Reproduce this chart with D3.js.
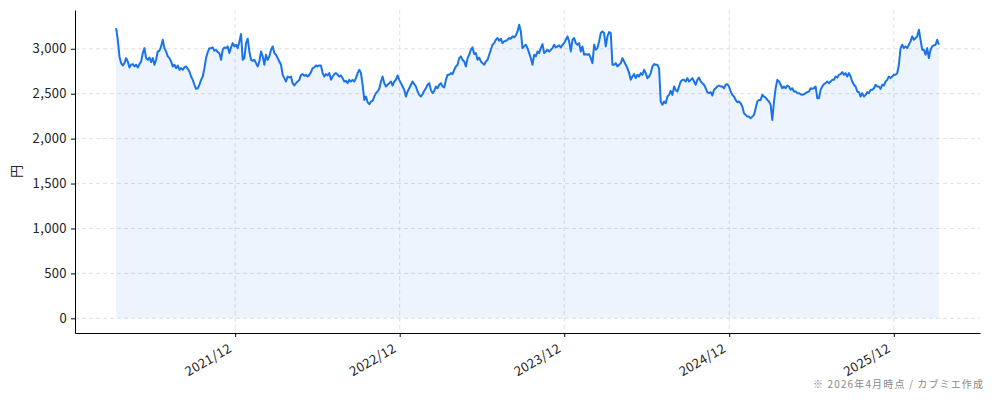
<!DOCTYPE html>
<html>
<head>
<meta charset="utf-8">
<script src="https://cdn.jsdelivr.net/npm/d3@7"></script>
<style>
  html, body { margin: 0; padding: 0; background: #fff; }
  svg { display: block; }
</style>
</head>
<body>
<svg id="chart"></svg>
<script>
// price series: first and last trading dates, closes evenly spread between them
const startDate = "2021-03-12";
const endDate = "2026-03-11";
const closes = [
  3230,3100,2915,2840,2814,2840,2896,2859,2792,2822,2829,2803,2822,2792,2829,2859,
  2952,3007,2896,2877,2903,2851,2896,2822,2877,2970,2978,3026,3100,3007,2970,2915,
  2896,2859,2803,2822,2784,2814,2766,2784,2766,2792,2803,2777,2747,2691,2654,2599,
  2554,2561,2599,2654,2691,2784,2896,2963,3007,3007,3015,2978,2989,2963,2952,2877,
  2989,3015,3007,3026,2952,3015,3063,3026,3045,3007,3082,3164,2877,2896,3063,3112,
  2970,2877,2866,2877,2840,2803,2859,2970,2915,2822,2933,2877,2915,2989,3026,2952,
  2933,2896,2859,2822,2710,2673,2636,2691,2680,2691,2617,2591,2617,2636,2654,2710,
  2718,2699,2710,2691,2710,2740,2784,2792,2814,2803,2814,
  2814,2729,2691,2718,2703,2729,2654,2691,2718,2729,2710,2691,2703,2673,2636,2643,
  2617,2654,2636,2654,2636,2673,2729,2766,2729,2599,2431,2468,2405,2383,2413,2420,
  2468,2506,2524,2554,2636,2691,2617,2580,2599,2617,2636,2591,2636,2654,2703,2654,
  2617,2580,2543,2468,2524,2561,2599,2636,2606,2580,2524,2487,2468,2494,2532,2561,
  2599,2617,2543,2506,2532,2580,2561,2599,2617,2580,2569,2654,2710,2710,2729,2718,
  2766,2803,2822,2896,2915,2877,2859,2803,2896,2933,2989,3015,2941,2952,2877,2903,
  2859,2840,2822,2859,2877,2933,2989,3045,3063,3100,3119,3089,3112,3063,3082,3089,
  3100,3119,3112,3138,3126,3149,3193,3268,3193,3007,3026,3045,3007,
  2952,2896,2822,2933,2915,2970,2952,3007,3052,2952,2970,2989,2970,2989,3007,3045,
  3015,3026,3037,3015,3045,3063,3100,3138,3082,2970,3100,3119,3063,3045,3063,2970,
  3026,2933,2941,2933,2941,2896,2840,3045,2989,3007,3082,3175,3193,3175,3026,3138,
  3186,3175,2822,2822,2840,2803,2822,2840,2896,2859,2822,2784,2729,2654,2691,2718,
  2673,2710,2691,2729,2710,2766,2729,2673,2691,2729,2803,2829,2822,2822,2784,2413,
  2376,2413,2394,2468,2487,2532,2487,2580,2543,2524,2580,2636,2654,2654,2636,2673,
  2636,2654,2673,2636,2599,2654,2680,2636,2617,2599,2561,2517,2506,2517,2480,2543,
  2561,2580,2591,2580,2580,2561,2599,2606,2580,2524,2487,2468,2431,2405,
  2413,2394,2357,2283,2264,2245,2245,2227,2245,2264,2338,2413,2431,2431,2487,2468,
  2457,2431,2413,2376,2208,2413,2561,2654,2636,2599,2561,2580,2561,2591,2580,2543,
  2561,2524,2524,2506,2506,2494,2487,2494,2506,2517,2524,2561,2554,2561,2580,2450,
  2450,2543,2580,2606,2617,2636,2617,2636,2654,2654,2691,2680,2710,2718,2740,2710,
  2729,2691,2729,2691,2636,2599,2580,2524,2517,2468,2506,2468,2487,2517,2506,2543,
  2543,2561,2599,2580,2580,2554,2599,2591,2636,2654,2691,2673,2691,2710,2710,2729,
  2822,3007,3045,3007,3026,3007,3045,3082,3138,3100,3119,3138,3212,3100,2989,2989,
  2933,3007,2896,2989,3026,3037,3045,3100,3045
];
const xTickDates = ["2021-12-01", "2022-12-01", "2023-12-01", "2024-12-01", "2025-12-01"];
const yTicks = [0, 500, 1000, 1500, 2000, 2500, 3000];
const yLabel = "円";
const note = "※ 2026年4月時点 / カブミエ作成";

const width = 994, height = 401;
const margin = { top: 10, right: 14, bottom: 68, left: 75 };
const lineColor = "#1a73e8";
const font = '"Noto Sans CJK JP", "Noto Sans", sans-serif';

const parse = d3.timeParse("%Y-%m-%d");
const t0 = parse(startDate).getTime(), t1 = parse(endDate).getTime();
const data = closes.map((v, i) => ({
  date: new Date(t0 + i * (t1 - t0) / (closes.length - 1)),
  value: v
}));

const svg = d3.select("#chart").attr("width", width).attr("height", height);

// matplotlib-like 5% margins on both axes
const xPad = (t1 - t0) * 0.05;
const x = d3.scaleTime()
  .domain([new Date(t0 - xPad), new Date(t1 + xPad)])
  .range([margin.left, width - margin.right]);

const yMax = d3.max(closes), yPad = yMax * 0.05;
const y = d3.scaleLinear()
  .domain([-yPad, yMax + yPad])
  .range([height - margin.bottom, margin.top]);

// grid
const grid = svg.append("g").attr("stroke", "#d9d9e0").attr("stroke-dasharray", "4,3").attr("stroke-width", 0.8);
grid.selectAll(".hg").data(yTicks).enter().append("line")
  .attr("x1", margin.left).attr("x2", width - margin.right)
  .attr("y1", d => y(d)).attr("y2", d => y(d));
grid.selectAll(".vg").data(xTickDates).enter().append("line")
  .attr("x1", d => x(parse(d))).attr("x2", d => x(parse(d)))
  .attr("y1", margin.top).attr("y2", height - margin.bottom);

// area + line
svg.append("path")
  .datum(data)
  .attr("fill", lineColor)
  .attr("fill-opacity", 0.08)
  .attr("d", d3.area().x(d => x(d.date)).y0(y(0)).y1(d => y(d.value)));

svg.append("path")
  .datum(data)
  .attr("fill", "none")
  .attr("stroke", lineColor)
  .attr("stroke-width", 2)
  .attr("stroke-linejoin", "round")
  .attr("d", d3.line().x(d => x(d.date)).y(d => y(d.value)));

// axes
const xAxis = svg.append("g")
  .attr("transform", `translate(0,${height - margin.bottom})`)
  .call(d3.axisBottom(x).tickValues(xTickDates.map(parse)).tickFormat(d3.timeFormat("%Y/%m")).tickSize(4).tickSizeOuter(0));
xAxis.selectAll("text")
  .attr("text-anchor", "end")
  .attr("dy", null)
  .attr("y", null)
  .attr("transform", "translate(-3,18) rotate(-30)");

const yAxis = svg.append("g")
  .attr("transform", `translate(${margin.left},0)`)
  .call(d3.axisLeft(y).tickValues(yTicks).tickFormat(d3.format(",")).tickSize(4).tickSizeOuter(0).tickPadding(4));

svg.selectAll(".tick text")
  .attr("font-family", font)
  .attr("font-size", 13)
  .attr("letter-spacing", 0.4)
  .attr("fill", "#222");
svg.selectAll(".domain").attr("stroke", "#000").attr("stroke-width", 1);
svg.selectAll(".tick line").attr("stroke", "#000");

svg.append("text")
  .attr("transform", `translate(21,${(margin.top + height - margin.bottom) / 2}) rotate(-90)`)
  .attr("text-anchor", "middle")
  .attr("font-family", font)
  .attr("font-size", 13)
  .attr("fill", "#222")
  .text(yLabel);

svg.append("text")
  .attr("x", 983).attr("y", 388)
  .attr("text-anchor", "end")
  .attr("font-family", font)
  .attr("font-size", 10)
  .attr("textLength", 170)
  .attr("lengthAdjust", "spacing")
  .attr("fill", "#888")
  .text(note);
</script>
</body>
</html>
